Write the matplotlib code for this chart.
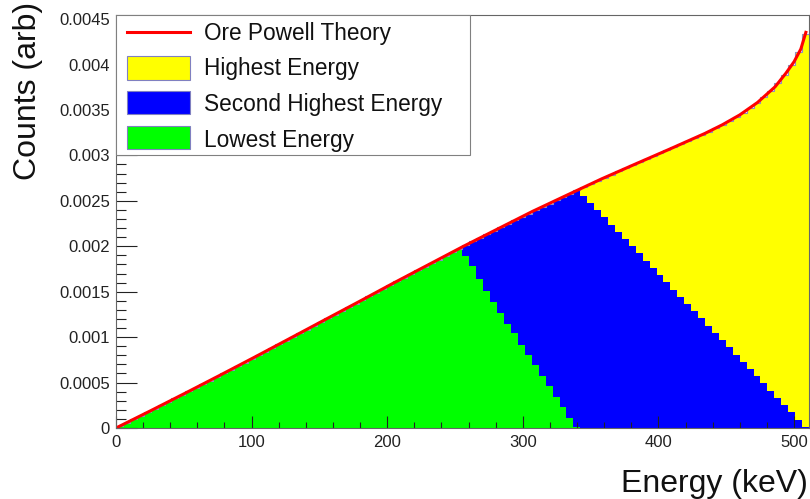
import numpy as np
import matplotlib
matplotlib.use("Agg")
import matplotlib.pyplot as plt
from matplotlib.patches import Rectangle
from matplotlib.lines import Line2D
from matplotlib.ticker import MultipleLocator, FuncFormatter

plt.rcParams['font.family'] = ['Liberation Sans', 'DejaVu Sans']

# ---------------- data ----------------
energy_min_kev = 0.0
energy_max_kev = 511.0
n_bins = 100

# total height of the stacked histogram (top of yellow), per bin
stack_top_all = [
    0.0000189, 0.0000567, 0.0000946, 0.0001328, 0.0001710, 0.0002094, 0.0002479, 0.0002865, 0.0003253, 0.0003642,
    0.0004032, 0.0004423, 0.0004816, 0.0005210, 0.0005604, 0.0006000, 0.0006397, 0.0006797, 0.0007197, 0.0007597,
    0.0007999, 0.0008402, 0.0008804, 0.0009210, 0.0009616, 0.0010022, 0.0010428, 0.0010832, 0.0011240, 0.0011647,
    0.0012054, 0.0012458, 0.0012864, 0.0013269, 0.0013676, 0.0014086, 0.0014494, 0.0014903, 0.0015311, 0.0015721,
    0.0016127, 0.0016529, 0.0016932, 0.0017335, 0.0017738, 0.0018136, 0.0018540, 0.0018943, 0.0019342, 0.0019746,
    0.0020139, 0.0020528, 0.0020911, 0.0021298, 0.0021686, 0.0022067, 0.0022453, 0.0022839, 0.0023225, 0.0023604,
    0.0023976, 0.0024342, 0.0024700, 0.0025063, 0.0025419, 0.0025781, 0.0026141, 0.0026494, 0.0026852, 0.0027209,
    0.0027551, 0.0027892, 0.0028232, 0.0028562, 0.0028899, 0.0029234, 0.0029567, 0.0029900, 0.0030230, 0.0030560,
    0.0030896, 0.0031239, 0.0031581, 0.0031922, 0.0032262, 0.0032610, 0.0032982, 0.0033373, 0.0033789, 0.0034225,
    0.0034707, 0.0035228, 0.0035779, 0.0036372, 0.0037044, 0.0037914, 0.0038851, 0.0040000, 0.0041400, 0.0043400,
]

# top of the blue (second highest energy) layer, per bin
stack_top_second = [
    0.0000189, 0.0000567, 0.0000946, 0.0001328, 0.0001710, 0.0002094, 0.0002479, 0.0002865, 0.0003253, 0.0003642,
    0.0004032, 0.0004423, 0.0004816, 0.0005210, 0.0005604, 0.0006000, 0.0006397, 0.0006797, 0.0007197, 0.0007597,
    0.0007999, 0.0008402, 0.0008804, 0.0009210, 0.0009616, 0.0010022, 0.0010428, 0.0010832, 0.0011240, 0.0011647,
    0.0012054, 0.0012458, 0.0012864, 0.0013269, 0.0013676, 0.0014086, 0.0014494, 0.0014903, 0.0015311, 0.0015721,
    0.0016127, 0.0016529, 0.0016932, 0.0017335, 0.0017738, 0.0018136, 0.0018540, 0.0018943, 0.0019342, 0.0019746,
    0.0020139, 0.0020528, 0.0020911, 0.0021298, 0.0021686, 0.0022067, 0.0022453, 0.0022839, 0.0023225, 0.0023604,
    0.0023976, 0.0024342, 0.0024700, 0.0025063, 0.0025419, 0.0025781, 0.0026141, 0.0025570, 0.0024780, 0.0023980,
    0.0023190, 0.0022390, 0.0021600, 0.0020800, 0.0020010, 0.0019210, 0.0018420, 0.0017620, 0.0016830, 0.0016030,
    0.0015240, 0.0014440, 0.0013650, 0.0012850, 0.0012060, 0.0011260, 0.0010470, 0.0009670, 0.0008880, 0.0008080,
    0.0007290, 0.0006490, 0.0005700, 0.0004900, 0.0004110, 0.0003310, 0.0002520, 0.0001720, 0.0000930, 0.0000130,
]

# top of the green (lowest energy) layer, per bin
stack_top_lowest = [
    0.0000189, 0.0000567, 0.0000946, 0.0001328, 0.0001710, 0.0002094, 0.0002479, 0.0002865, 0.0003253, 0.0003642,
    0.0004032, 0.0004423, 0.0004816, 0.0005210, 0.0005604, 0.0006000, 0.0006397, 0.0006797, 0.0007197, 0.0007597,
    0.0007999, 0.0008402, 0.0008804, 0.0009210, 0.0009616, 0.0010022, 0.0010428, 0.0010832, 0.0011240, 0.0011647,
    0.0012054, 0.0012458, 0.0012864, 0.0013269, 0.0013676, 0.0014086, 0.0014494, 0.0014903, 0.0015311, 0.0015721,
    0.0016127, 0.0016529, 0.0016932, 0.0017335, 0.0017738, 0.0018136, 0.0018540, 0.0018943, 0.0019342, 0.0019746,
    0.0018900, 0.0017800, 0.0016400, 0.0015100, 0.0013900, 0.0012700, 0.0011500, 0.0010400, 0.0009100, 0.0008000,
    0.0006900, 0.0005700, 0.0004600, 0.0003400, 0.0002300, 0.0001100, 0.0000100, 0.0, 0.0, 0.0,
    0.0, 0.0, 0.0, 0.0, 0.0, 0.0, 0.0, 0.0, 0.0, 0.0,
    0.0, 0.0, 0.0, 0.0, 0.0, 0.0, 0.0, 0.0, 0.0, 0.0,
    0.0, 0.0, 0.0, 0.0, 0.0, 0.0, 0.0, 0.0, 0.0, 0.0,
]

# Ore-Powell theory curve
theory_kev = [0, 25, 51, 77, 102, 128, 153, 179, 204, 230, 256, 281, 307, 332, 358,
              383, 409, 434, 447, 460, 473, 486, 494, 500, 505, 509]
theory_val = [0.0, 0.000186, 0.000383, 0.000583, 0.000778, 0.000984, 0.001183, 0.001389,
              0.001590, 0.001794, 0.001998, 0.002187, 0.002383, 0.002559, 0.002741, 0.002905,
              0.003074, 0.003240, 0.003336, 0.003446, 0.003582, 0.003755, 0.003905, 0.004031,
              0.004171, 0.004370]

legend_labels = ["Ore Powell Theory", "Highest Energy", "Second Highest Energy", "Lowest Energy"]
x_label = "Energy (keV)"
y_label = "Counts (arb)"

# ---------------- figure ----------------
W, H = 810, 499
fig = plt.figure(figsize=(W / 100, H / 100), dpi=100)

def fx(x):
    return x / W

def fy(y):
    return 1 - y / H

ax = fig.add_axes([fx(116), fy(428), (809 - 116) / W, (428 - 15) / H])

edges = np.linspace(energy_min_kev, energy_max_kev, n_bins + 1)
all_top = np.array(stack_top_all)
second_top = np.array(stack_top_second)
lowest_top = np.array(stack_top_lowest)

ax.stairs(lowest_top, edges, baseline=0, fill=True, color="#00ff00", lw=0, zorder=1)
ax.stairs(second_top, edges, baseline=lowest_top, fill=True, color="#0000ff", lw=0, zorder=1)
ax.stairs(all_top, edges, baseline=second_top, fill=True, color="#ffff00", lw=0, zorder=1)
ax.stairs(all_top, edges, baseline=None, color="#8c8cc8", lw=0.8, zorder=2)
ax.plot(theory_kev, theory_val, color="#ff0000", lw=2.2, zorder=3, solid_capstyle="butt")

ax.set_xlim(energy_min_kev, energy_max_kev)
ax.set_ylim(0, 0.004545)

ax.xaxis.set_major_locator(MultipleLocator(100))
ax.xaxis.set_minor_locator(MultipleLocator(20))
ax.yaxis.set_major_locator(MultipleLocator(0.0005))
ax.yaxis.set_minor_locator(MultipleLocator(0.0001))
ax.yaxis.set_major_formatter(FuncFormatter(lambda v, p: "0" if abs(v) < 1e-12 else "%g" % round(v, 6)))
ax.xaxis.set_major_formatter(FuncFormatter(lambda v, p: "%d" % round(v)))

ax.tick_params(axis="both", which="both", direction="in", top=False, right=False,
               color="#222222", width=0.8, labelsize=12, labelcolor="#222222")
ax.tick_params(axis="x", which="major", length=8.9, pad=5)
ax.tick_params(axis="x", which="minor", length=4.5)
ax.tick_params(axis="y", which="major", length=15, pad=4.3)
ax.tick_params(axis="y", which="minor", length=7.5)
for s in ax.spines.values():
    s.set_color("#666666")
    s.set_linewidth(0.8)
    s.set_zorder(5)

fig.text(fx(808), fy(491.7), x_label, ha="right", va="baseline", fontsize=23, color="#111111")
fig.text(fx(28), fy(2), y_label, ha="center", va="top", rotation=90, fontsize=23, color="#111111")

# ---------------- legend ----------------
fig.add_artist(Rectangle((fx(116), fy(155)), (470 - 116) / W, (155 - 15) / H,
                         transform=fig.transFigure, fc="white", ec="#808080", lw=0.8, zorder=10))
fig.add_artist(Line2D([fx(127.3), fx(190)], [fy(32.3), fy(32.3)], transform=fig.transFigure,
                      color="#ff0000", lw=2.2, zorder=11))
box_colors = ["#ffff00", "#0000ff", "#00ff00"]
box_tops = [55.7, 90.5, 125.5]
for c, t in zip(box_colors, box_tops):
    fig.add_artist(Rectangle((fx(127.3), fy(t + 23.8)), (190 - 127.3) / W, 23.8 / H,
                             transform=fig.transFigure, fc=c, ec="#8080c0", lw=0.8, zorder=11))
baselines = [40, 75.5, 111, 146.5]
for lab, b in zip(legend_labels, baselines):
    fig.text(fx(204), fy(b), lab, ha="left", va="baseline", fontsize=16.3, color="#111111", zorder=12)

fig.savefig("out.png", dpi=100)
